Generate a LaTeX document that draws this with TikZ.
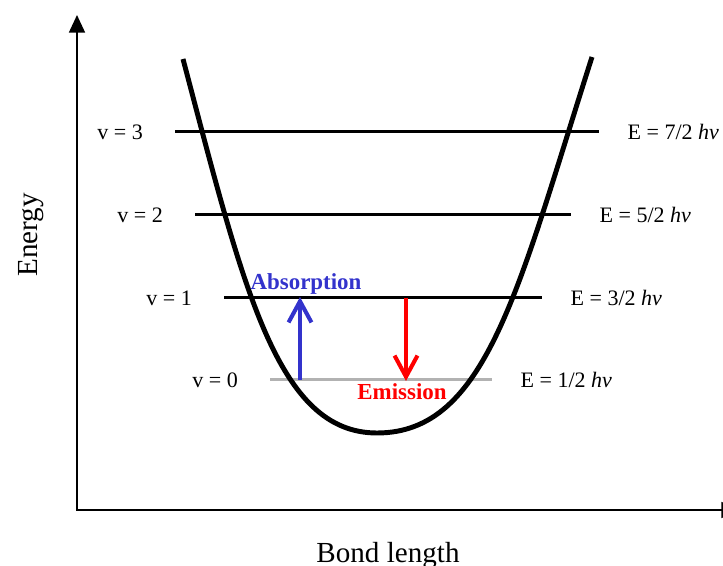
\documentclass[tikz,border=0pt]{standalone}
\usepackage{fontspec}
\setmainfont{Liberation Serif}
\usepackage{tikz}
\usetikzlibrary{arrows.meta, positioning}
\definecolor{absblue}{RGB}{51,51,204}

\begin{document}
\begin{tikzpicture}[
        % --- Style Definitions ---
        x=0.567pt, y=-0.567pt,
        axis_style/.style={line width=1.2pt, {Triangle[length=10pt, width=9pt]}-{Triangle[length=10pt, width=9pt]}},
        curve_style/.style={line width=2.8pt},
        level_style/.style={line width=1.7pt},
        level_label/.style={font=\fontsize{12.5}{15}\selectfont, inner sep=0pt},
        axis_label/.style={font=\fontsize{16.5}{20}\selectfont, inner sep=0pt},
        trans_label/.style={font=\fontsize{13}{16}\selectfont\bfseries, inner sep=0pt},
        trans_arrow/.style={line width=2.3pt, -{Straight Barb[length=12pt, width=13pt]}}
    ]
        \useasboundingbox (0,0) rectangle (723,566);

        % --- Axes ---
        \coordinate (y_top) at (77,15);
        \coordinate (origin) at (77,510);
        \coordinate (x_end) at (739,510);
        \draw[axis_style] (y_top) -- (origin) -- (x_end);
        \node[axis_label, rotate=90, anchor=base] (energy) at (37,235) {Energy};
        \node[axis_label, anchor=base] (bond) at (388,562) {Bond length};

        % --- Vibrational Levels ---
        \foreach \n/\y/\xa/\xb/\e/\col in {3/132/175/599/7/black, 2/215/195/571/5/black, 1/298/224/542/3/black, 0/380/270/492/1/black!30}{
            \coordinate (lv\n_a) at (\xa,\y);
            \coordinate (lv\n_b) at (\xb,\y);
            \draw[level_style, draw=\col] (lv\n_a) -- (lv\n_b);
            \node[level_label, left=18pt of lv\n_a] (vlab\n) {v = \n};
            \node[level_label, right=16pt of lv\n_b] (elab\n) {E = \e/2 \textit{hν}};
        }

        % --- Potential Well ---
        \coordinate (well_l) at (183,59);
        \coordinate (well_min) at (377,433);
        \coordinate (well_r) at (592,57);
        \draw[curve_style] (well_l) .. controls (243.7,289) and (277,433) .. (well_min)
            .. controls (487,433) and (518.4,287) .. (well_r);

        % --- Transitions ---
        \coordinate (abs_lo) at (300,380);
        \coordinate (abs_hi) at (300,297);
        \draw[trans_arrow, absblue] (abs_lo) -- (abs_hi);
        \node[trans_label, text=absblue] (abs_lab) at (306,284) {Absorption};

        \coordinate (em_hi) at (406,298);
        \coordinate (em_lo) at (406,381);
        \draw[trans_arrow, red] (em_hi) -- (em_lo);
        \node[trans_label, text=red] (em_lab) at (402,392) {Emission};

    \end{tikzpicture}
\end{document}
